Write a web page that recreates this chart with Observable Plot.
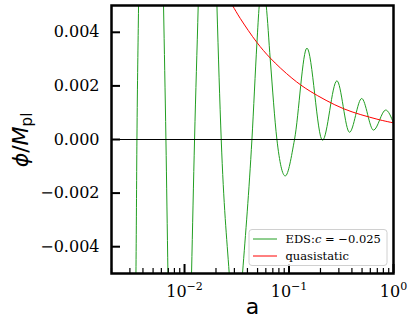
<!DOCTYPE html>
<html>
<head>
<meta charset="utf-8">
<script src="https://cdn.jsdelivr.net/npm/d3@7"></script>
<script src="https://cdn.jsdelivr.net/npm/@observablehq/plot@0.6"></script>
<style>
  html, body { margin: 0; padding: 0; background: white; }
</style>
</head>
<body>
<div id="chart"></div>
<script>
// ---- data ----
const aGreen = [0.002, 0.0029, 0.003428, 0.003503, 0.003631, 0.0048, 0.006295, 0.006637, 0.006938, 0.0090,
  0.01167, 0.01247, 0.01352, 0.0166, 0.02042, 0.02245, 0.02678, 0.0310, 0.03589, 0.04416, 0.04930,
  0.05188, 0.05601, 0.06050, 0.0661, 0.07658, 0.09198, 0.1129, 0.1484, 0.2092, 0.2873, 0.3793,
  0.4962, 0.6436, 0.842, 1];
const phiGreen = [-0.012, -0.02, -0.005, 0, 0.005, 0.03, 0.005, 0, -0.005, -0.025,
  -0.005, 0, 0.005, 0.02, 0.005, 0, -0.005, -0.008, -0.005, 0, 0.0036,
  0.005, 0.0058, 0.005, 0.003, 0, -0.00136, 0, 0.00341, -0.00003, 0.00219, 0.00027,
  0.00153, 0.00035, 0.0011, 0.00062];

const aQS = [0.025, 0.02879, 0.03412, 0.04930, 0.0661, 0.1066, 0.1595, 0.3322, 0.6938, 1];
const phiQS = [0.0054, 0.0050, 0.00452, 0.00362, 0.00304, 0.00229, 0.00180, 0.00115, 0.00076, 0.00062];

const yTicks = [-0.004, -0.002, 0, 0.002, 0.004];
const xMajorTicks = [0.01, 0.1, 1];
const xMinorTicks = [0.002, 0.003, 0.004, 0.005, 0.006, 0.007, 0.008, 0.009,
  0.02, 0.03, 0.04, 0.05, 0.06, 0.07, 0.08, 0.09,
  0.2, 0.3, 0.4, 0.5, 0.6, 0.7, 0.8, 0.9];
const seriesNames = ["EDS", "quasistatic"];
const cValue = "−0.025";
const xLabel = "a";

const GREEN = "#219e21";
const RED = "#ff0000";
const SERIF = "DejaVu Serif";
const SANS = "DejaVu Sans";

const greenData = aGreen.map((a, i) => ({a, phi: phiGreen[i]}));
const qsData = aQS.map((a, i) => ({a, phi: phiQS[i]}));

const fmtY = d => (d < 0 ? "−" : "") + Math.abs(d).toFixed(3);
const fmtX = d => "10^" + Math.round(Math.log10(d));

const chart = Plot.plot({
  width: 415,
  height: 332,
  marginLeft: 111,
  marginRight: 22,
  marginTop: 5,
  marginBottom: 59,
  style: {fontFamily: SERIF, fontSize: "16px", background: "white", color: "black"},
  x: {type: "log", domain: [0.002, 1], label: null},
  y: {domain: [-0.005, 0.005], label: null},
  marks: [
    Plot.line(greenData, {x: "a", y: "phi", stroke: GREEN, strokeWidth: 1, curve: "monotone-x", clip: true}),
    Plot.line(qsData, {x: "a", y: "phi", stroke: RED, strokeWidth: 1, curve: "catmull-rom", clip: true}),
    Plot.ruleY([0], {stroke: "black", strokeWidth: 1}),
    Plot.axisY(yTicks, {tickSize: -9, strokeWidth: 2, fill: "none", label: null}),
    Plot.axisY(yTicks, {tickSize: 0, tickPadding: 12, tickFormat: fmtY, label: null, fontFamily: SERIF, fontSize: 16}),
    Plot.axisX(xMajorTicks, {tickSize: -9, strokeWidth: 2, fill: "none", label: null}),
    Plot.axisX(xMinorTicks, {tickSize: -5, strokeWidth: 1.2, fill: "none", label: null}),
    Plot.axisX(xMajorTicks, {tickSize: 0, tickPadding: 12, tickFormat: fmtX, label: null, fontFamily: SERIF, fontSize: 16}),
    Plot.text([xLabel], {text: d => d, frameAnchor: "bottom", dy: 40, fontSize: 22, fontFamily: SANS}),
    Plot.frame({stroke: "black", strokeWidth: 2.5})
  ]
});

document.getElementById("chart").appendChild(chart);

const svg = d3.select(chart);

// superscripts on the log tick labels
svg.selectAll("text").each(function() {
  const s = this.textContent;
  if (/^10\^/.test(s)) {
    const exp = s.slice(3).replace("-", "−");
    const t = d3.select(this);
    t.text(null);
    t.append("tspan").text("10");
    t.append("tspan").attr("dy", -7).attr("font-size", 11).text(exp);
  }
});

// y label  ϕ/M_pl
const yl = svg.append("text")
  .attr("transform", "translate(28,140) rotate(-90)")
  .attr("text-anchor", "middle")
  .attr("font-family", SANS)
  .attr("font-size", 22)
  .attr("fill", "black");
yl.append("tspan").attr("font-style", "italic").text("ϕ");
yl.append("tspan").text("/");
yl.append("tspan").attr("font-style", "italic").text("M");
yl.append("tspan").attr("font-size", 15).attr("dy", 4).text("pl");

// legend
const lg = svg.append("g").attr("font-family", SERIF).attr("font-size", 11.5).attr("text-anchor", "start");
lg.append("rect").attr("x", 249).attr("y", 229.5).attr("width", 138).attr("height", 36)
  .attr("rx", 3).attr("fill", "white").attr("fill-opacity", 0.8).attr("stroke", "#d0d0d0");
lg.append("line").attr("x1", 253).attr("x2", 277).attr("y1", 239).attr("y2", 239).attr("stroke", GREEN).attr("stroke-width", 1);
lg.append("line").attr("x1", 253).attr("x2", 277).attr("y1", 256).attr("y2", 256).attr("stroke", RED).attr("stroke-width", 1);
const t1 = lg.append("text").attr("x", 285.5).attr("y", 242.5).attr("fill", "black").attr("text-anchor", "start");
t1.append("tspan").text(seriesNames[0] + ":");
t1.append("tspan").attr("font-style", "italic").text("c");
t1.append("tspan").text(" = " + cValue);
lg.append("text").attr("x", 285.5).attr("y", 259.5).attr("fill", "black").attr("text-anchor", "start").text(seriesNames[1]);
</script>
</body>
</html>
